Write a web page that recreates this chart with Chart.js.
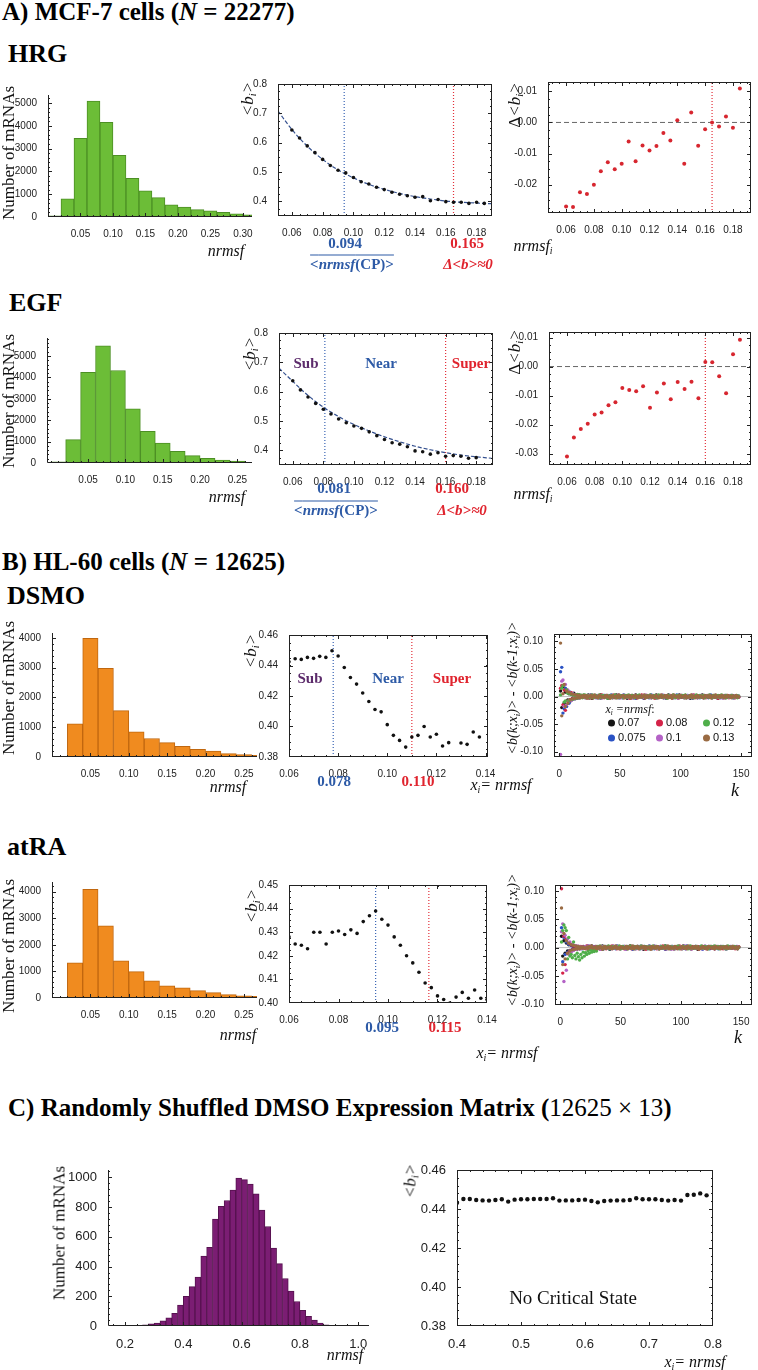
<!DOCTYPE html>
<html>
<head>
<meta charset="utf-8">
<script src="https://cdn.jsdelivr.net/npm/chart.js"></script>
<style>
  html, body { margin: 0; padding: 0; background: #fff; }
  #page { position: relative; width: 758px; height: 1370px; overflow: hidden; }
  #page canvas { position: absolute; }
  .t { position: absolute; white-space: nowrap; line-height: 1; font-family: "Liberation Serif", "Times New Roman", serif; color: #111; }
  .t sub { font-size: 0.62em; vertical-align: -0.3em; line-height: 0; }
  .h { font-weight: bold; font-size: 25px; color: #000; }
  .it { font-style: italic; }
  .bl { color: #2d5aa6; font-weight: bold; }
  .rd { color: #e0242e; font-weight: bold; }
  .pu { color: #5c2b6b; font-weight: bold; }
  .dot { display: inline-block; width: 7px; height: 7px; border-radius: 50%; margin-right: 3px; vertical-align: -0.5px; }
</style>
</head>
<body>
<div id="page"></div>
<script>
// ---------- A) MCF-7 cells ----------
const hrgBins = [0.01, 0.03, 0.05, 0.07, 0.09, 0.11, 0.13, 0.15, 0.17, 0.19, 0.21, 0.23, 0.25, 0.27, 0.29, 0.31];
const hrgCounts = [50, 800, 3450, 5080, 4150, 2700, 1700, 1150, 850, 530, 430, 320, 270, 200, 140, 90];
const egfBins = [0.01, 0.03, 0.05, 0.07, 0.09, 0.11, 0.13, 0.15, 0.17, 0.19, 0.21, 0.23, 0.25];
const egfCounts = [50, 1090, 4240, 5480, 4320, 2530, 1480, 930, 545, 345, 220, 140, 95];

const nrmsfGrid = [0.06, 0.065, 0.07, 0.075, 0.08, 0.085, 0.09, 0.095, 0.1, 0.105, 0.11, 0.115, 0.12,
  0.125, 0.13, 0.135, 0.14, 0.145, 0.15, 0.155, 0.16, 0.165, 0.17, 0.175, 0.18, 0.185];
const hrgB = [0.643, 0.616, 0.589, 0.566, 0.543, 0.522, 0.506, 0.497, 0.481, 0.467, 0.459, 0.448, 0.44,
  0.431, 0.424, 0.419, 0.414, 0.416, 0.402, 0.406, 0.399, 0.397, 0.397, 0.393, 0.397, 0.393];
const egfB = [0.637, 0.606, 0.582, 0.56, 0.54, 0.524, 0.507, 0.494, 0.483, 0.475, 0.463, 0.45, 0.437,
  0.426, 0.421, 0.412, 0.398, 0.395, 0.387, 0.392, 0.38, 0.382, 0.38, 0.373, 0.375];
const fitX = [0.051, 0.06, 0.07, 0.08, 0.09, 0.1, 0.11, 0.12, 0.13, 0.14, 0.15, 0.16, 0.17, 0.18, 0.19];
const hrgFit = [0.708, 0.645, 0.588, 0.543, 0.507, 0.48, 0.458, 0.441, 0.427, 0.416, 0.408, 0.401, 0.397, 0.394, 0.392];
const egfFit = [0.68, 0.635, 0.587, 0.547, 0.515, 0.488, 0.466, 0.446, 0.429, 0.414, 0.402, 0.392, 0.384, 0.378, 0.373];
const hrgDelta = [-0.027, -0.0272, -0.0224, -0.023, -0.02, -0.0157, -0.0128, -0.015, -0.0133, -0.0061, -0.0125,
  -0.0074, -0.009, -0.0076, -0.0034, -0.0058, 0.0007, -0.0133, 0.0032, -0.0075, -0.0022, 0.0, -0.0013, 0.0019, -0.0017, 0.0109];
const egfDelta = [-0.031, -0.0244, -0.0215, -0.0197, -0.0165, -0.0158, -0.0133, -0.0123, -0.0074, -0.0081, -0.0085,
  -0.0068, -0.0142, -0.0089, -0.0058, -0.0113, -0.0053, -0.0077, -0.0052, -0.0109, 0.0016, 0.0015, -0.0033, -0.0092, 0.0042, 0.0092];
const hrgCP = 0.094, hrgZero = 0.165;
const egfCP = 0.081, egfZero = 0.160;

// ---------- B) HL-60 cells ----------
const hlBins = [0.03, 0.05, 0.07, 0.09, 0.11, 0.13, 0.15, 0.17, 0.19, 0.21, 0.23, 0.25, 0.27];
const dsmoCounts = [1110, 3990, 2980, 1560, 845, 620, 485, 360, 260, 200, 115, 80, 60];
const atraCounts = [1325, 4085, 2715, 1400, 990, 650, 460, 385, 275, 200, 125, 85, 60];

const hlGrid = [0.06, 0.0625, 0.065, 0.0675, 0.07, 0.0725, 0.075, 0.0775, 0.08, 0.0825, 0.085, 0.0875, 0.09,
  0.0925, 0.095, 0.0975, 0.1, 0.1025, 0.105, 0.1075, 0.11, 0.1125, 0.115, 0.1175, 0.12, 0.1225, 0.125,
  0.1275, 0.13, 0.1325, 0.135, 0.1375, 0.14];
const dsmoB = [0.4425, 0.4444, 0.444, 0.4453, 0.4447, 0.446, 0.4453, 0.4497, 0.4462, 0.4387, 0.4321, 0.4278, 0.422,
  0.4164, 0.4111, 0.4096, 0.4012, 0.3942, 0.3909, 0.3865, 0.3931, 0.3942, 0.4, 0.3931, 0.3949, 0.3872, 0.3894,
  null, 0.3892, 0.3883, 0.3964, 0.3931, null];
const atraB = [0.428, 0.425, 0.4245, 0.423, 0.43, 0.43, 0.425, 0.43, 0.4305, 0.429, 0.431, 0.4295, 0.4345,
  0.437, 0.439, 0.4355, 0.433, 0.428, 0.4245, 0.42, 0.417, 0.413, 0.4085, 0.4065, 0.403, 0.4015, 0.4,
  0.4025, 0.4045, 0.402, 0.4055, 0.402, 0.4015];
const dsmoCP = 0.078, dsmoZero = 0.110;
const atraCP = 0.095, atraZero = 0.1165;

// <b(k;xi)> - <b(k-1;xi)> for k = 1, 2, 3 ... (values in units of 0.001)
const dsmoDiff070 = [10,-20,18,-12,8,12,-6,5,-8,4,-3,6,-4,3,-2,3,-2,2,-1,2,
  1,-2,0,3,-1,2,-3,1,0,2,-1,-2,1,3,-1,0,2,-1,1,-3,0,2,1,-2,-1,0,3,-1,2,-2,1,0,-1,2,0,-3,1,1,-2,2,
  0,-1,3,-2,1,0,-1,2,1,-3,0,2,-1,1,2,-2,0,1,-1,3,-2,0,1,-1,2,-2,1,0,-1,3,-1,1,-2,0,2,-1,1,-2,3,0,
  -1,1,-2,2,0,-1,1,-3,2,0,-1,1,2,-2,0,1,-1,3,-2,0,1,-1,2,-1,0,-2,1,2,-1,0,-3,1,2,-1,0,1,-2,2,0,-1,
  1,-1,2,-2,0,1,-1,0];
const dsmoDiff075 = [45,53,-30,-22,15,-18,10,-12,8,-6,5,-4,3,-3,2,-2,2,-1,1,-1,
  -1,1,2,-2,0,3,-1,-1,2,0,-2,1,1,-3,0,2,-1,2,0,-1,-2,1,3,-1,0,-1,1,2,-2,0,1,-2,3,-1,0,1,-1,2,-2,0,
  1,0,-3,2,1,-1,0,2,-2,1,1,-1,0,-2,2,3,-1,0,1,-2,1,0,-1,2,0,2,-1,-3,1,0,2,-1,1,-2,0,1,3,-1,-1,0,
  2,-1,1,0,-2,2,-1,1,0,-3,2,1,-1,0,1,-2,2,0,-1,2,-1,1,-2,0,3,-1,0,-1,2,-2,1,1,-2,0,1,-1,2,0,-1,1,
  0,2,-2,1,-1,0,1,-1];
const dsmoDiff080 = [15,20,-15,12,-25,10,-8,6,-5,7,-4,3,-3,2,-2,3,-1,2,-1,1,
  2,0,-1,1,-3,2,1,-2,0,1,-1,2,0,-2,3,-1,1,-1,0,2,-2,1,-1,0,3,-2,1,0,-1,2,-1,1,-2,0,2,1,-1,-3,0,2,
  1,-1,2,-2,0,1,-1,3,0,-2,1,-1,2,0,-1,1,-1,2,-3,1,0,2,-1,-1,1,0,2,-2,1,-1,0,2,-2,3,-1,0,1,-2,1,0,
  2,-1,0,-2,1,1,-1,2,0,-1,3,-2,0,1,-1,1,-1,2,0,-1,-2,2,1,0,1,-2,2,0,-1,1,-3,1,0,1,-1,2,-1,0,2,-2,
  1,-1,0,1,-2,1,0,-1];
const dsmoDiff100 = [-105,28,30,-18,22,-15,12,-8,6,-7,5,-4,3,-2,3,-2,1,-1,2,-1,
  -2,1,0,2,-1,-1,3,0,1,-2,2,-1,0,1,-3,2,0,-1,1,2,-2,0,1,-1,2,1,-2,0,3,-1,0,-2,1,2,-1,0,-2,1,1,-1,
  -3,2,0,1,-1,2,-1,0,1,-2,3,-1,0,1,-2,2,0,-1,1,-2,2,0,-1,1,3,-2,0,1,-1,-1,2,0,-1,1,-2,2,1,-3,0,1,
  2,-1,0,-1,1,2,-2,0,-1,3,-1,1,0,-2,1,-1,2,0,-2,1,-1,1,0,2,-1,-2,1,0,2,-1,1,-1,0,2,-3,1,1,-1,0,-1,
  2,-1,1,0,-2,1,-1,1];
const dsmoDiff120 = [3,15,20,-10,-8,12,6,-7,5,4,-5,3,2,-3,4,-2,3,2,-2,3,
  3,-1,2,0,-2,1,3,-2,1,2,-1,0,3,-2,1,2,-1,0,2,-3,1,1,-1,2,0,3,-2,1,-1,2,0,1,-2,2,1,-1,3,0,-1,2,
  1,-2,0,2,-1,3,1,-1,0,2,-2,1,1,-1,3,0,-1,1,2,-2,0,3,-1,1,2,-1,0,1,-3,2,1,0,-1,3,0,-2,2,1,-1,0,
  1,2,-1,3,-2,0,1,-1,2,0,-2,1,3,-1,0,2,-1,1,2,-2,0,1,-1,3,0,-2,2,1,-1,0,2,-1,1,3,-1,0,2,-2,1,0,
  -1,2,1,-1,0,2,-2,1];
const dsmoDiff130 = [97,-35,5,22,-18,10,-12,8,-6,5,-4,4,-3,3,-2,2,-2,1,-1,2,
  -1,2,-3,1,0,2,-2,1,3,-1,0,-2,2,1,-1,0,-2,1,2,-1,0,-3,1,2,-1,0,1,-2,3,-1,0,1,2,-2,0,1,-1,2,-3,0,
  1,-1,2,0,-2,1,1,-1,0,3,-2,1,-1,0,2,-1,1,-2,0,2,-1,-2,1,3,-1,0,1,-1,2,-2,0,1,-3,1,2,0,-1,1,-2,2,
  0,-1,1,2,-2,0,-1,1,3,-2,1,0,-1,2,-1,0,1,-1,-2,2,0,1,-1,2,-2,0,1,-1,3,-1,0,1,-1,2,0,-2,1,-1,2,0,
  1,-2,1,0,-1,2,-1,0];

const atraDiff070 = [20,-15,12,-10,8,-6,5,-5,4,-3,3,-2,2,-2,1,-2,1,-1,2,-1,
  0,2,-1,1,-2,3,0,-1,2,-2,1,0,-1,1,3,-2,0,1,-1,2,-3,0,1,2,-1,0,2,-1,1,-2,0,1,2,-1,-2,1,0,3,-1,0,
  1,-2,1,2,-1,0,-1,2,-3,1,0,1,2,-1,0,-2,1,2,-1,0,1,-2,2,-1,0,1,3,-2,0,-1,1,2,-1,0,-2,1,2,-1,1,0,
  -2,3,-1,0,1,-1,2,-2,0,1,-1,2,0,-3,1,1,-1,2,0,-1,1,-2,0,2,1,-1,2,-2,0,1,-1,0,2,-1,1,0,-2,2,-1,1,
  0,-1,2,-1,1,0,-2,1];
const atraDiff075 = [35,-25,18,-12,10,-8,6,-5,4,-3,3,-3,2,-2,2,-1,1,-2,1,-1,
  1,-1,3,-2,0,1,2,-1,-2,0,1,-1,2,1,-3,0,2,-1,0,1,-2,2,1,-1,0,-2,3,1,-1,0,-1,2,1,0,-2,2,-1,1,0,-3,
  2,1,-1,0,2,-2,1,-1,0,2,1,-2,-1,3,0,1,-1,-2,2,0,1,-1,2,-1,1,0,-3,2,0,1,-1,1,2,-2,0,-1,1,2,-1,0,
  -1,1,2,-2,3,0,-1,1,-2,1,0,2,-1,-1,1,0,2,-3,1,0,1,-1,2,-2,0,1,-1,1,2,0,-2,1,-1,2,0,-1,1,-2,1,0,
  2,-1,0,1,-1,2,-1,0];
const atraDiff080 = [104,-45,20,-30,15,-10,8,-6,5,-4,3,-3,2,-2,2,-1,2,-1,1,-1,
  -2,3,0,-1,2,-1,1,-2,0,2,-1,1,-3,2,0,1,-1,-2,2,1,0,-1,3,-1,1,0,-2,2,-1,1,0,-1,-2,2,1,-1,0,3,-2,0,
  1,-1,2,0,-2,1,-1,2,0,1,-3,1,2,-1,0,1,-1,2,0,-2,1,1,-1,0,3,-1,-2,0,1,2,-1,1,0,-2,1,-1,2,0,3,-2,
  1,-1,0,2,-1,-1,1,0,-2,2,1,0,-1,2,-3,1,1,0,-1,2,-2,1,0,-1,2,-1,1,-2,0,2,1,-1,0,1,-2,1,-1,0,2,-1,
  1,0,-1,2,-2,1,0,1];
const atraDiff100 = [28,42,-60,22,-40,15,-12,10,-8,6,-5,4,-3,3,-2,2,-2,1,-1,1,
  2,-2,1,3,-1,0,-2,1,1,-1,0,2,-3,1,2,-1,0,2,-1,-1,1,0,-2,3,-1,1,0,2,-2,1,-1,0,2,-3,1,0,1,-1,2,-1,
  0,1,-2,2,0,-1,3,-2,1,0,-1,1,2,-2,0,1,-1,3,-1,0,-2,1,2,-1,0,-1,1,2,-2,0,1,-3,2,1,-1,0,1,-2,2,0,
  -1,1,3,-2,0,1,-1,2,-2,0,1,-1,2,-1,0,1,1,-2,0,3,-1,1,-1,0,2,-1,1,-2,0,2,-1,1,-1,0,2,-1,1,-2,1,0,
  -1,2,0,-1,1,-1,2,0];
const atraDiff120 = [10,30,40,35,30,-20,18,-15,-12,-18,10,-14,-20,-10,-16,-22,-12,-18,-8,-15,
  -9,-12,-6,-10,-4,-8,-5,-7,-3,-6,
  2,-1,3,0,-2,1,2,-1,1,3,-2,0,2,-1,1,2,-1,0,3,-2,1,2,-1,0,2,-2,1,3,-1,0,2,1,-1,2,0,-2,3,1,-1,2,
  0,1,-2,2,1,-1,3,0,-1,2,1,-2,0,2,-1,1,3,-1,0,2,-2,1,1,-1,0,2,-1,3,-2,0,1,2,-1,1,0,-2,2,3,-1,0,
  1,-1,2,0,-2,1,3,-1,0,2,-1,1,-2,0,2,1,-1,3,0,-1,2,-2,1,0,2,-1,1,-2,3,0,-1,1,0,2,-1,1,-1,0];
const atraDiff130 = [70,-30,25,-20,12,-10,8,-6,5,-4,4,-3,3,-2,2,-2,1,-1,1,-1,
  -1,1,-2,2,0,3,-1,0,1,-2,1,-1,2,0,-3,1,2,-1,0,1,-1,2,-2,0,1,3,-1,0,-2,1,1,-1,0,-1,2,-2,1,0,-1,3,
  -2,1,0,2,-1,-1,1,0,2,-2,1,-1,0,1,-3,2,0,1,-1,2,1,-2,0,-1,1,2,-1,0,3,-2,1,-1,0,-1,2,1,-2,0,1,-1,
  2,0,-1,1,-2,3,0,-1,1,-1,0,2,-1,1,-2,0,-1,2,1,-1,0,-2,2,1,0,-1,1,-2,2,0,-1,1,-2,1,0,1,-1,2,-1,0,
  1,-1,2,0,-1,1,-2,1];

// ---------- C) shuffled DMSO ----------
const cBins = [0.25, 0.27, 0.29, 0.31, 0.33, 0.35, 0.37, 0.39, 0.41, 0.43, 0.45, 0.47, 0.49, 0.51, 0.53, 0.55,
  0.57, 0.59, 0.61, 0.63, 0.65, 0.67, 0.69, 0.71, 0.73, 0.75, 0.77, 0.79, 0.81, 0.83, 0.85, 0.87, 0.89, 0.91, 0.93];
const cCounts = [3, 8, 15, 20, 35, 55, 85, 140, 200, 265, 330, 470, 530, 720, 805, 845,
  915, 995, 985, 955, 890, 780, 670, 525, 420, 320, 235, 165, 105, 65, 40, 20, 8, 4, 2];
const cGrid = [0.4, 0.41, 0.42, 0.43, 0.44, 0.45, 0.46, 0.47, 0.48, 0.49, 0.5, 0.51, 0.52, 0.53, 0.54, 0.55,
  0.56, 0.57, 0.58, 0.59, 0.6, 0.61, 0.62, 0.63, 0.64, 0.65, 0.66, 0.67, 0.68, 0.69, 0.7, 0.71, 0.72, 0.73,
  0.74, 0.75, 0.76, 0.77, 0.78, 0.79];
const cB = [0.4432, 0.4451, 0.4451, 0.4446, 0.4444, 0.4443, 0.4446, 0.445, 0.4438, 0.4448, 0.445, 0.445, 0.4451,
  0.4451, 0.4451, 0.4455, 0.4443, 0.4444, 0.4444, 0.4446, 0.4448, 0.4441, 0.4434, 0.4441, 0.4443, 0.4444,
  0.4444, 0.4446, 0.4455, 0.445, 0.445, 0.445, 0.4446, 0.4443, 0.4446, 0.4443, 0.4472, 0.4473, 0.448, 0.447];

// ---------- tick labels ----------
const tickHistA = [0.05, 0.1, 0.15, 0.2, 0.25, 0.3];
const tickHistB = [0.05, 0.1, 0.15, 0.2, 0.25];
const tickCountA = [0, 1000, 2000, 3000, 4000, 5000];
const tickCountB = [0, 1000, 2000, 3000, 4000];
const tickNrmsfA = [0.06, 0.08, 0.1, 0.12, 0.14, 0.16, 0.18];
const tickBA = [0.4, 0.5, 0.6, 0.7, 0.8];
const tickDeltaHrg = [-0.02, -0.01, 0, 0.01];
const tickDeltaEgf = [-0.03, -0.02, -0.01, 0, 0.01];
const tickNrmsfB = [0.06, 0.08, 0.1, 0.12, 0.14];
const tickBDsmo = [0.38, 0.4, 0.42, 0.44, 0.46];
const tickBAtra = [0.4, 0.41, 0.42, 0.43, 0.44, 0.45];
const tickK = [0, 50, 100, 150];
const tickDiff = [-0.1, -0.05, 0, 0.05, 0.1];
const tickHistC = [0.2, 0.4, 0.6, 0.8, 1.0];
const tickCountC = [0, 200, 400, 600, 800, 1000];
const tickNrmsfC = [0.4, 0.5, 0.6, 0.7, 0.8];

const seriesColors = { '0.07': '#151515', '0.075': '#2a52c4', '0.08': '#d42348', '0.1': '#b462c6', '0.12': '#4fae4a', '0.13': '#9a6b43' };

// ---------- drawing helpers ----------
const page = document.getElementById('page');
const PL = 46, PR = 12, PT = 10, PB = 26;
const TICK_FONT = "'Liberation Sans', Arial, sans-serif";

const axesPlugin = {
  id: 'axesFrame',
  afterDraw(chart, args, o) {
    const { ctx, chartArea: a, scales } = chart;
    ctx.save();
    ctx.strokeStyle = '#222';
    ctx.lineWidth = 1;
    if (o.frame) {
      ctx.strokeRect(a.left + 0.5, a.top + 0.5, a.right - a.left - 1, a.bottom - a.top - 1);
    } else {
      ctx.beginPath();
      ctx.moveTo(a.left + 0.5, a.top);
      ctx.lineTo(a.left + 0.5, a.bottom - 0.5);
      ctx.lineTo(a.right, a.bottom - 0.5);
      ctx.stroke();
    }
    const marks = (sc) => {
      const vals = sc.ticks.map(t => t.value);
      const out = vals.map(v => [v, 4]);
      const ms = (vals[1] - vals[0]) / (o.minor || 5);
      for (let v = vals[0]; v >= sc.min - 1e-12; v -= ms) out.push([v, 2]);
      for (let v = vals[0]; v <= sc.max + 1e-12; v += ms) out.push([v, 2]);
      return out;
    };
    ctx.beginPath();
    marks(scales.x).forEach(([v, len]) => {
      const px = Math.round(scales.x.getPixelForValue(v)) + 0.5;
      if (px < a.left || px > a.right) return;
      ctx.moveTo(px, a.bottom); ctx.lineTo(px, a.bottom - len);
      if (o.frame) { ctx.moveTo(px, a.top); ctx.lineTo(px, a.top + len); }
    });
    marks(scales.y).forEach(([v, len]) => {
      const py = Math.round(scales.y.getPixelForValue(v)) + 0.5;
      if (py < a.top || py > a.bottom) return;
      ctx.moveTo(a.left, py); ctx.lineTo(a.left + len, py);
      if (o.frame) { ctx.moveTo(a.right, py); ctx.lineTo(a.right - len, py); }
    });
    ctx.stroke();
    ctx.restore();
  }
};

function axis(s, which, size) {
  return {
    type: 'linear', min: s.min, max: s.max, offset: false,
    grid: { display: false }, border: { display: false },
    ticks: {
      padding: s.pad || 3, color: '#222', autoSkip: false, maxRotation: 0,
      font: { family: TICK_FONT, size: s.font || 10 },
      callback: v => Number(v).toFixed(s.dec)
    },
    afterBuildTicks: sc => { sc.ticks = s.ticks.map(v => ({ value: v })); },
    afterFit: sc => {
      if (which === 'x') sc.height = size; else sc.width = size;
      sc.paddingLeft = 0; sc.paddingRight = 0; sc.paddingTop = 0; sc.paddingBottom = 0;
    }
  };
}

function plot(f, type, datasets, xs, ys, frame, minor) {
  const cv = document.createElement('canvas');
  cv.width = f.r - f.l + PL + PR;
  cv.height = f.b - f.t + PT + PB;
  cv.style.left = (f.l - PL) + 'px';
  cv.style.top = (f.t - PT) + 'px';
  page.appendChild(cv);
  return new Chart(cv, {
    type,
    data: { datasets },
    options: {
      responsive: false, animation: false, devicePixelRatio: 1,
      layout: { padding: { top: PT, right: PR, left: 0, bottom: 0 } },
      plugins: { legend: { display: false }, tooltip: { enabled: false }, axesFrame: { frame, minor } },
      scales: { x: axis(xs, 'x', PB), y: axis(ys, 'y', PL) }
    },
    plugins: [axesPlugin]
  });
}

const pts = (xs, ys) => xs.map((x, i) => ({ x, y: ys[i] })).filter(p => p.y !== null && p.y !== undefined);

function histogram(f, bins, counts, fill, edge, xs, ys) {
  plot(f, 'bar', [{
    data: pts(bins, counts), backgroundColor: fill, borderColor: edge, borderWidth: 1,
    barPercentage: 1, categoryPercentage: 1
  }], xs, ys, false, 5);
}

function vline(x, y0, y1, color) {
  return { data: [{ x, y: y0 }, { x, y: y1 }], showLine: true, pointRadius: 0, borderColor: color, borderWidth: 1.2, borderDash: [1, 2] };
}
function hline(y, x0, x1, color, dash) {
  return { data: [{ x: x0, y }, { x: x1, y }], showLine: true, pointRadius: 0, borderColor: color, borderWidth: 1, borderDash: dash };
}
function dots(data, color, r) {
  return { data, pointRadius: r, pointBackgroundColor: color, pointBorderWidth: 0, showLine: false };
}

function bMean(f, xs, ys, grid, vals, fx, fy, cp, zero) {
  const sets = [dots(pts(grid, vals), '#111', 1.8)];
  if (fx) sets.push({ data: pts(fx, fy), showLine: true, pointRadius: 0, borderColor: '#34508f', borderWidth: 1.2, borderDash: [4, 2], cubicInterpolationMode: 'monotone' });
  if (cp !== null) sets.push(vline(cp, ys.min, ys.max, '#3a64b4'));
  if (zero !== null) sets.push(vline(zero, ys.min, ys.max, '#e3303a'));
  plot(f, 'scatter', sets, xs, ys, true, 4);
}

function deltaPlot(f, xs, ys, vals, zero) {
  plot(f, 'scatter', [
    dots(pts(nrmsfGrid, vals), '#d7262f', 2),
    hline(0, xs.min, xs.max, '#666', [5, 3]),
    vline(zero, ys.min, ys.max, '#e3303a')
  ], xs, ys, true, 4);
}

function kPlot(f, series, ys) {
  const xs = { min: -4.4, max: 159, ticks: tickK, dec: 0 };
  const sets = [['0.13', series[5]], ['0.12', series[4]], ['0.1', series[3]], ['0.08', series[2]], ['0.075', series[1]], ['0.07', series[0]]]
    .map(([key, vals]) => dots(vals.map((v, i) => ({ x: i + 1, y: v / 1000 })), seriesColors[key], 1.7));
  sets.push(hline(0, xs.min, xs.max, '#bdbdbd', []));
  plot(f, 'scatter', sets, xs, ys, true, 5);
}

function txt(html, x, y, css, mode) {
  const d = document.createElement('div');
  d.className = 't';
  d.innerHTML = html;
  if (css) d.style.cssText += css;
  d.style.left = x + 'px';
  d.style.top = y + 'px';
  d.style.transform = mode === 'l' ? 'translate(0,-50%)' : mode === 'v' ? 'translate(-50%,-50%) rotate(-90deg)' : 'translate(-50%,-50%)';
  page.appendChild(d);
}

// ---------- headings ----------
txt('A) MCF-7 cells (<i>N</i> = 22277)', 2, 11, '', 'l'); page.lastChild.classList.add('h');
txt('HRG', 8, 54, 'font-size:26px', 'l'); page.lastChild.classList.add('h');
txt('EGF', 9, 303, 'font-size:26px', 'l'); page.lastChild.classList.add('h');
txt('B) HL-60 cells (<i>N</i> = 12625)', 2, 561, '', 'l'); page.lastChild.classList.add('h');
txt('DSMO', 7, 596, 'font-size:26px', 'l'); page.lastChild.classList.add('h');
txt('atRA', 7, 847, 'font-size:26px', 'l'); page.lastChild.classList.add('h');
txt('C) Randomly Shuffled DMSO Expression Matrix (<span style="font-weight:normal">12625 × 13</span>)', 8, 1107, '', 'l'); page.lastChild.classList.add('h');

// ---------- A) HRG ----------
const green = '#6cbd37', greenEdge = '#4c8f24';
histogram({ l: 48, t: 95, r: 252, b: 217 }, hrgBins, hrgCounts, green, greenEdge,
  { min: 0, max: 0.314, ticks: tickHistA, dec: 2 }, { min: 0, max: 5350, ticks: tickCountA, dec: 0 });
bMean({ l: 278, t: 84, r: 492, b: 216 }, { min: 0.051, max: 0.19, ticks: tickNrmsfA, dec: 2 },
  { min: 0.35, max: 0.8, ticks: tickBA, dec: 1 }, nrmsfGrid, hrgB, fitX, hrgFit, hrgCP, hrgZero);
deltaPlot({ l: 548, t: 82, r: 751, b: 213 }, { min: 0.047, max: 0.193, ticks: tickNrmsfA, dec: 2 },
  { min: -0.0291, max: 0.013, ticks: tickDeltaHrg, dec: 2 }, hrgDelta, hrgZero);

// ---------- A) EGF ----------
histogram({ l: 47, t: 338, r: 252, b: 463 }, egfBins, egfCounts, green, greenEdge,
  { min: -0.005, max: 0.2695, ticks: tickHistB, dec: 2 }, { min: 0, max: 5840, ticks: tickCountA, dec: 0 });
bMean({ l: 279, t: 333, r: 493, b: 465 }, { min: 0.051, max: 0.191, ticks: tickNrmsfA, dec: 2 },
  { min: 0.35, max: 0.8, ticks: tickBA, dec: 1 }, nrmsfGrid, egfB, fitX, egfFit, egfCP, egfZero);
deltaPlot({ l: 549, t: 332, r: 751, b: 465 }, { min: 0.047, max: 0.193, ticks: tickNrmsfA, dec: 2 },
  { min: -0.0339, max: 0.0119, ticks: tickDeltaEgf, dec: 2 }, egfDelta, egfZero);

// ---------- B) DSMO ----------
const orange = '#f08b1f', orangeEdge = '#c0670f';
histogram({ l: 52, t: 633, r: 257, b: 757 }, hlBins, dsmoCounts, orange, orangeEdge,
  { min: 0, max: 0.267, ticks: tickHistB, dec: 2 }, { min: 0, max: 4165, ticks: tickCountB, dec: 0 });
bMean({ l: 289, t: 635, r: 488, b: 757 }, { min: 0.06, max: 0.141, ticks: tickNrmsfB, dec: 2 },
  { min: 0.38, max: 0.46, ticks: tickBDsmo, dec: 2 }, hlGrid, dsmoB, null, null, dsmoCP, dsmoZero);
kPlot({ l: 554, t: 634, r: 752, b: 757 },
  [dsmoDiff070, dsmoDiff075, dsmoDiff080, dsmoDiff100, dsmoDiff120, dsmoDiff130],
  { min: -0.1096, max: 0.1135, ticks: tickDiff, dec: 2 });

// ---------- B) atRA ----------
histogram({ l: 52, t: 882, r: 257, b: 998 }, hlBins, atraCounts, orange, orangeEdge,
  { min: 0, max: 0.267, ticks: tickHistB, dec: 2 }, { min: 0, max: 4360, ticks: tickCountB, dec: 0 });
bMean({ l: 289, t: 885, r: 487, b: 1003 }, { min: 0.06, max: 0.14, ticks: tickNrmsfB, dec: 2 },
  { min: 0.4, max: 0.45, ticks: tickBAtra, dec: 2 }, hlGrid, atraB, null, null, atraCP, atraZero);
kPlot({ l: 555, t: 885, r: 752, b: 1005 },
  [atraDiff070, atraDiff075, atraDiff080, atraDiff100, atraDiff120, atraDiff130],
  { min: -0.1014, max: 0.1106, ticks: tickDiff, dec: 2 });

// ---------- C) shuffled ----------
histogram({ l: 108, t: 1170, r: 369, b: 1326 }, cBins, cCounts, '#7b1d73', '#56124f',
  { min: 0.1416, max: 1.037, ticks: tickHistC, dec: 1, font: 13 }, { min: 0, max: 1050, ticks: tickCountC, dec: 0, font: 13 });
plot({ l: 457, t: 1170, r: 713, b: 1326 }, 'scatter', [dots(pts(cGrid, cB), '#111', 2.2)],
  { min: 0.4, max: 0.8, ticks: tickNrmsfC, dec: 1, font: 13 }, { min: 0.38, max: 0.46, ticks: tickBDsmo, dec: 2, font: 13 }, true, 5);

// ---------- axis titles ----------
const nm = 'Number of mRNAs';
[[8, 153], [8, 401], [8, 688], [8, 946]].forEach(([x, y]) => txt(nm, x, y, 'font-size:17px', 'v'));
txt(nm, 59, 1233, 'font-size:17px', 'v');
const bi = '<span class="it">&lt;b<sub>i</sub>&gt;</span>';
[[247, 99], [249, 354], [250, 651], [251, 906], [410, 1181]].forEach(([x, y]) => txt(bi, x, y, 'font-size:17px', 'v'));
const dbi = 'Δ<span class="it">&lt;b<sub>i</sub>&gt;</span>';
txt(dbi, 514, 105, 'font-size:17px', 'v');
txt(dbi, 514, 352, 'font-size:17px', 'v');
const kl = '<span class="it">&lt;b(k;x<sub>i</sub>)&gt; - &lt;b(k-1;x<sub>i</sub>)&gt;</span>';
txt(kl, 513, 688, 'font-size:14px', 'v');
txt(kl, 513, 940, 'font-size:14px', 'v');

const nr = '<span class="it">nrmsf</span>';
txt(nr, 226, 251, 'font-size:16px');
txt(nr, 227, 497, 'font-size:16px');
txt(nr, 228, 787, 'font-size:16px');
txt(nr, 238, 1035, 'font-size:16px');
txt(nr, 345, 1355, 'font-size:16px');
const nri = '<span class="it">nrmsf<sub>i</sub></span>';
txt(nri, 533, 246, 'font-size:16px');
txt(nri, 533, 494, 'font-size:16px');
const xi = '<span class="it">x<sub>i</sub>= nrmsf</span>';
txt(xi, 501, 785, 'font-size:16px');
txt(xi, 507, 1053, 'font-size:16px');
txt(xi, 695, 1362, 'font-size:16px');
txt('<span class="it">k</span>', 735, 790, 'font-size:18px');
txt('<span class="it">k</span>', 738, 1037, 'font-size:18px');

// ---------- critical-point annotations ----------
const cpText = '<span style="text-decoration:overline">&lt;<i>nrmsf</i>(CP)&gt;</span>';
const zeroText = '<i>Δ&lt;b&gt;≈0</i>';
txt(hrgCP.toFixed(3), 345, 243, 'font-size:15px', 'c'); page.lastChild.classList.add('bl');
txt(hrgZero.toFixed(3), 467, 243, 'font-size:15px', 'c'); page.lastChild.classList.add('rd');
txt(cpText, 352, 264, 'font-size:15px', 'c'); page.lastChild.classList.add('bl');
txt(zeroText, 468, 264, 'font-size:15px', 'c'); page.lastChild.classList.add('rd');
txt(egfCP.toFixed(3), 334, 488, 'font-size:15px', 'c'); page.lastChild.classList.add('bl');
txt(egfZero.toFixed(3), 452, 488, 'font-size:15px', 'c'); page.lastChild.classList.add('rd');
txt(cpText, 336, 510, 'font-size:15px', 'c'); page.lastChild.classList.add('bl');
txt(zeroText, 462, 510, 'font-size:15px', 'c'); page.lastChild.classList.add('rd');
txt(dsmoCP.toFixed(3), 334, 781, 'font-size:15px', 'c'); page.lastChild.classList.add('bl');
txt(dsmoZero.toFixed(3), 418, 781, 'font-size:15px', 'c'); page.lastChild.classList.add('rd');
txt(atraCP.toFixed(3), 382, 1027, 'font-size:15px', 'c'); page.lastChild.classList.add('bl');
txt('0.115', 445, 1027, 'font-size:15px', 'c'); page.lastChild.classList.add('rd');

[['Sub', 306, 363, 'pu'], ['Near', 381, 363, 'bl'], ['Super', 471, 363, 'rd'],
 ['Sub', 310, 678, 'pu'], ['Near', 388, 678, 'bl'], ['Super', 452, 678, 'rd']].forEach(([s, x, y, c]) => {
  txt(s, x, y, 'font-size:15px', 'c'); page.lastChild.classList.add(c);
});

txt('No Critical State', 573, 1297, 'font-size:19px', 'c');

// ---------- legend for DSMO k-plot ----------
txt('<span class="it">x<sub>i</sub> =nrmsf</span>:', 630, 709, 'font-size:12px', 'c');
[[['0.07', 612, 722], ['0.08', 660, 722], ['0.12', 707, 722]],
 [['0.075', 612, 737], ['0.1', 660, 737], ['0.13', 707, 737]]].forEach(row => row.forEach(([k, x, y]) => {
  txt('<span class="dot" style="background:' + seriesColors[k] + '"></span>' + k, x - 4, y,
    "font-size:11px;font-family:'Liberation Sans',Arial,sans-serif", 'l');
}));
</script>
</body>
</html>
